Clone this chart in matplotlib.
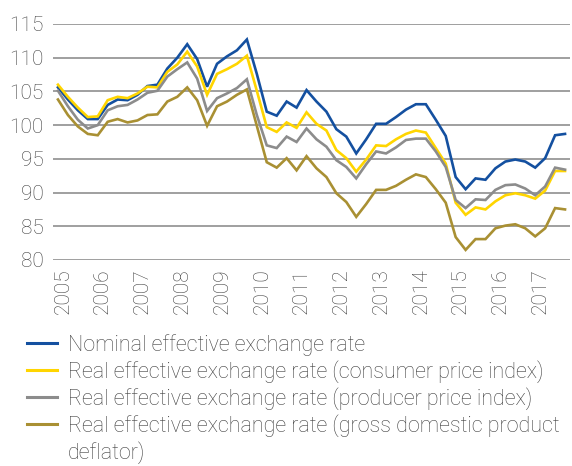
import numpy as np
import matplotlib
matplotlib.use('Agg')
import matplotlib.pyplot as plt
from matplotlib.lines import Line2D

plt.rcParams['font.family'] = ['Roboto', 'DejaVu Sans']

# ===================== DATA (quarterly, 2005Q1 - 2017Q4) =====================
years = [str(y) for y in range(2005, 2018)]

nominal = [105.6, 103.8, 102.2, 100.9, 100.9, 103.0, 103.8, 103.7, 104.5, 105.8, 106.0, 108.4,
           110.0, 112.0, 109.8, 105.7, 109.1, 110.2, 111.1, 112.7, 107.6, 102.0, 101.4, 103.5,
           102.6, 105.2, 103.5, 102.0, 99.4, 98.3, 95.8, 97.9, 100.2, 100.2, 101.2, 102.3,
           103.1, 103.1, 100.8, 98.4, 92.3, 90.5, 92.1, 91.9, 93.6, 94.6, 94.9, 94.6, 93.7, 95.1, 98.5, 98.7]

real_cpi = [106.0, 104.2, 102.6, 101.2, 101.3, 103.7, 104.2, 104.0, 104.7, 105.7, 105.6, 107.9,
            109.0, 110.9, 108.7, 104.5, 107.6, 108.3, 109.1, 110.3, 105.1, 99.7, 99.0, 100.4,
            99.6, 101.9, 100.2, 99.2, 96.3, 95.1, 93.1, 94.9, 97.0, 96.9, 97.9, 98.7,
            99.2, 98.9, 96.6, 94.3, 88.5, 86.7, 87.8, 87.5, 88.7, 89.6, 89.9, 89.6, 89.1, 90.3, 93.2, 93.2]

real_ppi = [105.1, 102.8, 100.8, 99.5, 100.0, 102.2, 102.8, 103.0, 103.8, 104.8, 105.1, 107.2,
            108.3, 109.3, 106.9, 102.1, 104.0, 104.7, 105.5, 106.8, 101.5, 97.0, 96.6, 98.3,
            97.5, 99.5, 97.9, 96.8, 94.8, 93.8, 92.1, 94.2, 96.1, 95.8, 96.7, 97.8,
            98.0, 98.0, 96.1, 93.8, 88.9, 87.7, 89.0, 88.9, 90.4, 91.1, 91.2, 90.6, 89.6, 90.9, 93.7, 93.4]

real_gdp = [103.8, 101.5, 99.8, 98.7, 98.5, 100.5, 100.9, 100.4, 100.7, 101.5, 101.6, 103.5,
            104.2, 105.6, 103.7, 99.9, 102.8, 103.5, 104.5, 105.3, 99.9, 94.5, 93.7, 95.1,
            93.3, 95.4, 93.6, 92.3, 89.9, 88.6, 86.4, 88.3, 90.4, 90.4, 91.0, 91.9,
            92.7, 92.3, 90.5, 88.5, 83.4, 81.5, 83.1, 83.1, 84.7, 85.1, 85.3, 84.7, 83.5, 84.7, 87.7, 87.5]

labels = ['Nominal effective exchange rate',
          'Real effective exchange rate (consumer price index)',
          'Real effective exchange rate (producer price index)',
          'Real effective exchange rate (gross domestic product']
colors = ['#1450A0', '#FFD500', '#8C8C8C', '#A99033']

# ===================== FIGURE =====================
fig = plt.figure(figsize=(5.72, 4.66), dpi=100)
ax = fig.add_axes([53/572, 1 - 260/466, 517/572, 236/466])

x = np.arange(len(nominal))
for series, c, lab in zip([nominal, real_cpi, real_ppi, real_gdp], colors, labels):
    ax.plot(x, series, color=c, linewidth=1.9, label=lab, solid_joinstyle='miter')

ax.set_xlim(-0.5, len(nominal) - 0.5)
ax.set_ylim(80, 115)
ax.set_yticks(np.arange(80, 116, 5))
ax.set_xticks(np.arange(0, len(nominal), 4) + 0.5)
ax.set_xticklabels(years, rotation=90)

txt = '#404040'
ax.tick_params(axis='both', length=0, labelsize=15, labelcolor=txt)
ax.tick_params(axis='y', pad=7)
ax.tick_params(axis='x', pad=6)
for lbl in ax.get_xticklabels() + ax.get_yticklabels():
    lbl.set_fontweight('light')

for s in ax.spines.values():
    s.set_visible(False)
ax.grid(axis='y', color='#858585', linewidth=1.1)
ax.set_axisbelow(True)

# ===================== LEGEND =====================
handles, labs = ax.get_legend_handles_labels()
handles.append(Line2D([], [], color='none'))
labs.append('deflator)')
leg = fig.legend(handles, labs, loc='upper left', bbox_to_anchor=(27/572, 1 - 334/466),
                 frameon=False, fontsize=15.5, handlelength=1.4, handletextpad=0.5,
                 labelspacing=0.2, borderpad=0, borderaxespad=0)
for t in leg.get_texts():
    t.set_color(txt)
    t.set_fontweight('light')
for h in leg.get_lines():
    h.set_linewidth(2.2)

fig.savefig('out.png', dpi=100)
